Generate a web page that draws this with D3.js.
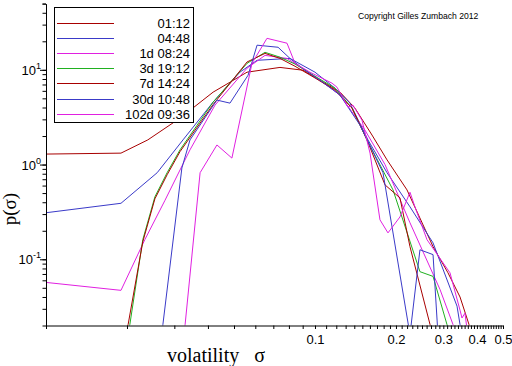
<!DOCTYPE html>
<html>
<head>
<meta charset="utf-8">
<script src="https://cdn.jsdelivr.net/npm/d3@7/dist/d3.min.js"></script>
<style>
  html, body { margin: 0; padding: 0; background: #fff; }
  svg { display: block; }
</style>
</head>
<body>
<svg id="chart" width="512" height="366"></svg>
<script>
// ---------------- data (sigma, p(sigma)) ----------------
const seriesNames = ["01:12", "04:48", "1d 08:24", "3d 19:12", "7d 14:24", "30d 10:48", "102d 09:36"];
const seriesColors = ["#a80000", "#3a3ac8", "#e020e0", "#20b020", "#a80000", "#3a3ac8", "#e020e0"];

const s0112 = [[0.01,1.29],[0.019,1.32],[0.0239,1.82],[0.0315,3.09],[0.0418,5.81],[0.0559,9.44],[0.0741,10.6],[0.0903,9.9],[0.1044,7.76],[0.1239,5.81],[0.1408,3.94],[0.1629,2.05],[0.1853,1.12],[0.2198,0.54],[0.2747,0.136],[0.3122,0.072],[0.3461,0.040],[0.3737,0.0205],[0.38,0.015]];
const s0448 = [[0.01,0.31],[0.019,0.39],[0.0259,0.82],[0.0323,1.82],[0.0418,4.56],[0.0526,9.44],[0.0609,12.6],[0.0807,13.2],[0.1,9.44],[0.1187,6.40],[0.1349,4.45],[0.1574,1.82],[0.1853,0.82],[0.2255,0.358],[0.2747,0.149],[0.3373,0.032],[0.3461,0.0205],[0.35,0.015]];
const s1d0824 = [[0.01,0.057],[0.019,0.047],[0.0233,0.161],[0.0277,0.42],[0.0343,1.43],[0.0425,4.24],[0.0559,10.4],[0.0652,14.2],[0.0787,13.2],[0.0983,8.77],[0.1239,5.41],[0.1534,2.31],[0.1821,1.0],[0.2255,0.243],[0.2916,0.048],[0.3259,0.0205],[0.33,0.015]];
const s3d1912 = [[0.0195,0.015],[0.0205,0.0205],[0.0229,0.161],[0.0254,0.456],[0.0282,0.82],[0.0315,1.43],[0.0418,4.56],[0.0559,11.7],[0.0652,15.3],[0.0741,13.6],[0.0843,11.5],[0.1,8.56],[0.1187,6.40],[0.1373,3.94],[0.1561,1.82],[0.195,0.54],[0.2456,0.074],[0.2747,0.066],[0.3095,0.0205],[0.315,0.015]];
const s7d1424 = [[0.0195,0.015],[0.0202,0.0205],[0.0229,0.153],[0.0254,0.435],[0.0282,0.78],[0.0315,1.37],[0.0418,4.3],[0.0559,12.1],[0.0652,14.9],[0.0741,13.2],[0.0843,10.9],[0.1,8.2],[0.1187,6.1],[0.1373,3.94],[0.1561,1.82],[0.1821,0.61],[0.207,0.445],[0.2255,0.136],[0.2677,0.0205],[0.272,0.015]];
const s30d1048 = [[0.027,0.015],[0.0272,0.0205],[0.0320,0.92],[0.0343,1.82],[0.0432,4.79],[0.0483,4.45],[0.0564,8.77],[0.0609,18.2],[0.0729,17.3],[0.0807,13.2],[0.0918,9.9],[0.1044,7.76],[0.1239,5.41],[0.147,2.61],[0.179,0.82],[0.2255,0.016],[0.2456,0.126],[0.2747,0.112],[0.2866,0.016]];
const s102d0936 = [[0.0325,0.015],[0.0329,0.0205],[0.0374,0.82],[0.0432,1.61],[0.0491,1.17],[0.0583,11.7],[0.0663,21.5],[0.0787,19.1],[0.0843,11.7],[0.0958,9.44],[0.1157,7.23],[0.1207,6.56],[0.1326,4.04],[0.1384,4.24],[0.1495,2.94],[0.1602,1.32],[0.1744,0.261],[0.1868,0.19],[0.207,0.28],[0.2255,0.51],[0.2353,0.358],[0.2609,0.161],[0.3176,0.072],[0.3461,0.029],[0.352,0.024],[0.3611,0.027],[0.366,0.02],[0.37,0.015]];
const seriesData = [s0112, s0448, s1d0824, s3d1912, s7d1424, s30d1048, s102d0936];

const xTickLabels = [0.1, 0.2, 0.3, 0.4, 0.5];
const yDecades = [0.1, 1, 10];
const yExponents = ["-1", "0", "1"];

// ---------------- drawing ----------------
const svg = d3.select("#chart");
const L = 46, R = 503, T = 3.6, B = 325.5;
const x = d3.scaleLog().domain([0.01, 0.5]).range([L, R]);
const y = d3.scaleLog().domain([0.02, 50]).range([B, T]);

svg.append("defs").append("clipPath").attr("id", "clip")
  .append("rect").attr("x", L).attr("y", T).attr("width", R - L).attr("height", B - T);

// lines
const line = d3.line().x(d => x(d[0])).y(d => y(d[1]));
const g = svg.append("g").attr("clip-path", "url(#clip)");
seriesData.forEach((s, i) => {
  g.append("path").attr("d", line(s)).attr("fill", "none")
    .attr("stroke", seriesColors[i]).attr("stroke-width", 1);
});

// x axis: ticks every 0.01
const xTicks = d3.range(1, 51).map(k => k / 100);
const xAxis = d3.axisBottom(x).tickValues(xTicks).tickSizeInner(3.5).tickSizeOuter(0)
  .tickFormat(d => xTickLabels.some(v => Math.abs(v - d) < 1e-9) ? String(d) : "");
const gx = svg.append("g").attr("transform", `translate(0,${B})`).call(xAxis);
gx.select(".domain").attr("stroke", "#000");
gx.selectAll(".tick line").attr("stroke", "#000");
gx.selectAll(".tick text").attr("font-family", "Liberation Sans, Arial, sans-serif")
  .attr("font-size", 13).attr("fill", "#000").attr("dy", "0.95em");

// y axis: minor ticks
const yTicks = [];
[0.01, 0.1, 1, 10].forEach(dec => { for (let m = 1; m <= 9; m++) { const v = dec * m; if (v >= 0.02 && v <= 50.0001) yTicks.push(v); } });
yTicks.push(50);
const yAxis = d3.axisLeft(y).tickValues(yTicks).tickSizeInner(3.5).tickSizeOuter(0).tickFormat("");
const gy = svg.append("g").attr("transform", `translate(${L},0)`).call(yAxis);
gy.select(".domain").attr("stroke", "#000");
gy.selectAll(".tick line").attr("stroke", "#000");
// major ticks longer
yDecades.forEach(v => {
  svg.append("line").attr("x1", L - 6).attr("x2", L).attr("y1", y(v) + 0.5).attr("y2", y(v) + 0.5).attr("stroke", "#000");
});
// decade labels
yDecades.forEach((v, i) => {
  const t = svg.append("text").attr("x", 41).attr("y", y(v) + 5)
    .attr("text-anchor", "end").attr("font-family", "Liberation Sans, Arial, sans-serif")
    .attr("font-size", 13).attr("fill", "#000");
  t.append("tspan").text("10");
  t.append("tspan").attr("dy", -6).attr("font-size", 9).text(yExponents[i]);
});

// axis titles
svg.append("text").attr("transform", "translate(16,209) rotate(-90)")
  .attr("text-anchor", "middle").attr("font-family", "Liberation Serif, Times New Roman, serif")
  .attr("font-size", 19).attr("fill", "#000").text("p(σ)");
svg.append("text").attr("x", 167).attr("y", 362)
  .attr("font-family", "Liberation Serif, Times New Roman, serif")
  .attr("font-size", 20).attr("fill", "#000").attr("xml:space", "preserve").text("volatility   σ");

// copyright
svg.append("text").attr("x", 358).attr("y", 19)
  .attr("font-family", "Liberation Sans, Arial, sans-serif")
  .attr("font-size", 8.6).attr("fill", "#000").text("Copyright Gilles Zumbach 2012");

// legend
const lg = svg.append("g");
lg.append("rect").attr("x", 54.5).attr("y", 7.5).attr("width", 139).attr("height", 115)
  .attr("fill", "#fff").attr("stroke", "#000").attr("stroke-width", 1);
seriesNames.forEach((n, i) => {
  const yy = 22.5 + i * 15.2;
  lg.append("line").attr("x1", 57).attr("x2", 114).attr("y1", Math.round(yy) + 0.5).attr("y2", Math.round(yy) + 0.5)
    .attr("stroke", seriesColors[i]).attr("stroke-width", 1);
  lg.append("text").attr("x", 190).attr("y", yy + 5).attr("text-anchor", "end")
    .attr("font-family", "Liberation Sans, Arial, sans-serif").attr("font-size", 13)
    .attr("fill", "#000").text(n);
});
</script>
</body>
</html>
